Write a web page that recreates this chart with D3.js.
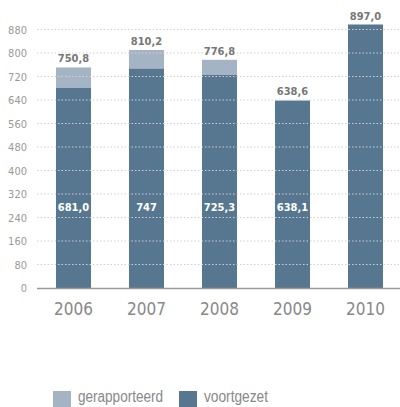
<!DOCTYPE html>
<html>
<head>
<meta charset="utf-8">
<script src="https://cdn.jsdelivr.net/npm/d3@7"></script>
<style>
  body { margin: 0; background: #fff; }
  svg { font-family: "DejaVu Sans Condensed", "Liberation Sans Narrow", sans-serif; }
</style>
</head>
<body>
<svg id="chart" width="400" height="407"></svg>
<script>
const years = ["2006", "2007", "2008", "2009", "2010"];
const voortgezet = [681.0, 747, 725.3, 638.1, 897.0];
const totaal = [750.8, 810.2, 776.8, 638.6, 897.0];
const innerLabels = ["681,0", "747", "725,3", "638,1", ""];
const topLabels = ["750,8", "810,2", "776,8", "638,6", "897,0"];
const yTicks = [0, 80, 160, 240, 320, 400, 480, 560, 640, 720, 800, 880];
const seriesNames = ["gerapporteerd", "voortgezet"];
const colors = ["#a5b4c4", "#56778f"];

const svg = d3.select("#chart");

const x = d3.scaleBand().domain(years).range([37, 402]).paddingInner(0.52).paddingOuter(0.26);
const y = d3.scaleLinear().domain([0, 880]).range([288, 29.5]);

// bars
const bars = svg.append("g");
years.forEach((yr, i) => {
  bars.append("rect")
    .attr("x", x(yr)).attr("width", x.bandwidth())
    .attr("y", y(totaal[i])).attr("height", y(voortgezet[i]) - y(totaal[i]))
    .attr("fill", colors[0]);
  bars.append("rect")
    .attr("x", x(yr)).attr("width", x.bandwidth())
    .attr("y", y(voortgezet[i])).attr("height", y(0) - y(voortgezet[i]))
    .attr("fill", colors[1]);
});

// grid on top
const grid = svg.append("g");
yTicks.filter((t) => t > 0).forEach((t) => {
  grid.append("line")
    .attr("x1", 37).attr("x2", 400)
    .attr("y1", y(t)).attr("y2", y(t))
    .attr("stroke", "#d0d0d0").attr("stroke-width", 1)
    .attr("stroke-dasharray", "1.5,2");
});

// y labels
svg.append("g").selectAll("text").data(yTicks).enter().append("text")
  .attr("x", 27).attr("y", (d) => y(d) + 4)
  .attr("text-anchor", "end")
  .attr("font-size", 11).attr("fill", "#999")
  .text((d) => d);

// baseline
svg.append("line")
  .attr("x1", 37).attr("x2", 400).attr("y1", y(0) + 0.5).attr("y2", y(0) + 0.5)
  .attr("stroke", "#999").attr("stroke-width", 1.5);

// x labels
svg.append("g").selectAll("text").data(years).enter().append("text")
  .attr("x", (d) => x(d) + x.bandwidth() / 2).attr("y", 315)
  .attr("text-anchor", "middle")
  .attr("font-size", 17).attr("fill", "#888")
  .text((d) => d);

// value labels
svg.append("g").selectAll("text").data(years).enter().append("text")
  .attr("x", (d) => x(d) + x.bandwidth() / 2)
  .attr("y", (d, i) => y(totaal[i]) - 5)
  .attr("text-anchor", "middle")
  .attr("font-size", 11).attr("font-weight", "bold").attr("fill", "#777")
  .text((d, i) => topLabels[i]);

svg.append("g").selectAll("text").data(years).enter().append("text")
  .attr("x", (d) => x(d) + x.bandwidth() / 2)
  .attr("y", 211)
  .attr("text-anchor", "middle")
  .attr("font-size", 11).attr("font-weight", "bold").attr("fill", "#fff")
  .text((d, i) => innerLabels[i]);

// legend
const legend = svg.append("g");
const legendX = [53, 179];
const legendW = [85, 64];
seriesNames.forEach((name, i) => {
  legend.append("rect")
    .attr("x", legendX[i]).attr("y", 391).attr("width", 18).attr("height", 16)
    .attr("fill", colors[i]);
  legend.append("text")
    .attr("x", legendX[i] + 25).attr("y", 402)
    .attr("font-family", "'Liberation Sans Narrow', sans-serif")
    .attr("font-size", 16).attr("fill", "#888")
    .attr("textLength", legendW[i]).attr("lengthAdjust", "spacingAndGlyphs")
    .text(name);
});
</script>
</body>
</html>
